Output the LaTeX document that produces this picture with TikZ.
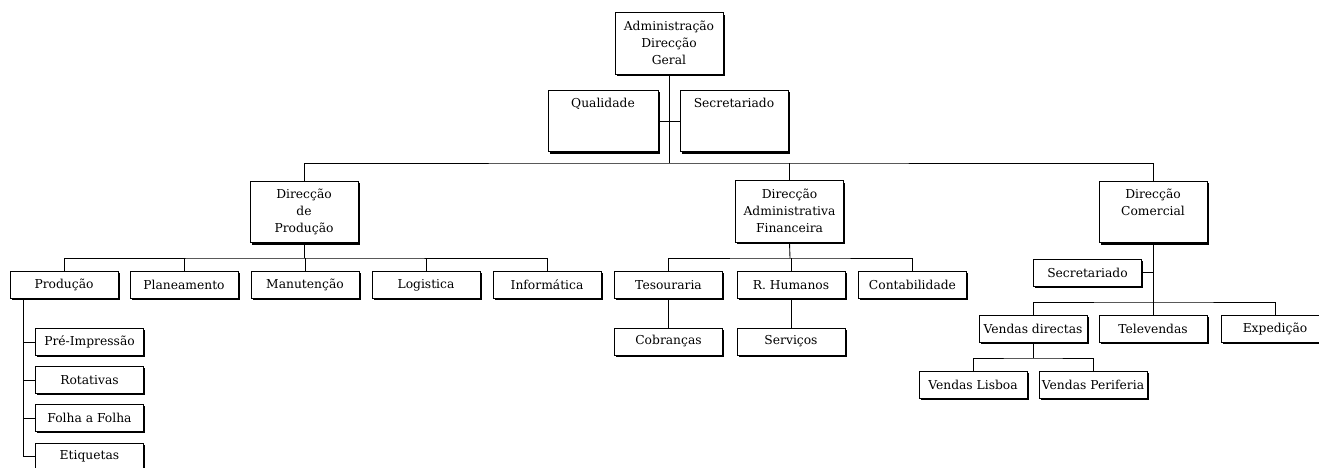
\documentclass[tikz,border=0pt]{standalone}
\usepackage{fontspec}
\setmainfont{DejaVu Serif}
\usetikzlibrary{shadows}
\newcommand{\boxlines}[1]{\begin{tabular}[t]{@{}c@{}}#1\end{tabular}}

\begin{document}
\begin{tikzpicture}[x=0.02cm,y=-0.02cm,
		font=\fontsize{7}{9.7}\selectfont,
		unit/.style={draw,fill=white,line width=0.5pt,inner sep=0pt,align=center,
			minimum width=2.16cm,minimum height=0.54cm,
			general shadow={fill=black,shadow xshift=1.1pt,shadow yshift=-1.1pt}},
		head/.style={unit,inner ysep=4pt,text height=6pt,text depth=21pt},
		link/.style={line width=0.5pt}]
		\useasboundingbox (0,0) rectangle (1319,467);

		% top
		\node [head] (adm) at (669,43.5) {\boxlines{Administração\\Direcção\\Geral}};
		\node [head,minimum width=2.2cm] (qual) at (603,121) {Qualidade};
		\node [head] (secr) at (734,121) {Secretariado};
		\coordinate (topbus) at (669,163);
		\draw [link] (qual.east) -- (secr.west);
		\draw [link] (adm.south) -- (topbus);

		\node [head] (dprod) at (304,212) {\boxlines{Direcção\\de\\Produção}};
		\node [head] (dadm) at (789.5,211.5) {\boxlines{Direcção\\Administrativa\\Financeira}};
		\node [head] (dcom) at (1153,212) {\boxlines{Direcção\\Comercial}};
		\draw [link] (dprod.north) |- (topbus) -| (dcom.north);
		\draw [link] (dadm.north) -- (dadm.north |- topbus);

		% producao
		\node [unit] (prod) at (64,285) {Produção};
		\node [unit] (plan) at (184,285) {Planeamento};
		\node [unit] (manu) at (305,285) {Manutenção};
		\node [unit] (logi) at (426,285) {Logistica};
		\node [unit] (info) at (547,285) {Informática};
		\coordinate (pbus) at (304,258);
		\draw [link] (dprod.south) -- (pbus);
		\draw [link] (prod.north) |- (pbus) -| (info.north);
		\foreach \n in {plan,manu,logi}
			\draw [link] (\n.north) -- (\n.north |- pbus);

		\node [unit] (preimp) at (89.5,342) {Pré-Impressão};
		\node [unit] (rota) at (89.5,380) {Rotativas};
		\node [unit] (folha) at (89.5,418) {Folha a Folha};
		\node [unit] (etiq) at (89.5,456.5) {Etiquetas};
		\coordinate (ptrunk) at ([xshift=0.28cm]prod.south west);
		\draw [link] (ptrunk) |- (etiq.west);
		\foreach \n in {preimp,rota,folha}
			\draw [link] (\n.west) -- (\n.west -| ptrunk);

		% administrativa
		\node [unit] (tes) at (668.5,285) {Tesouraria};
		\node [unit] (rhum) at (791,285) {R. Humanos};
		\node [unit] (cont) at (912.5,285) {Contabilidade};
		\node [unit] (cobr) at (668.5,341.5) {Cobranças};
		\node [unit] (serv) at (791,341.5) {Serviços};
		\coordinate (abus) at (790,258);
		\draw [link] (dadm.south) -- (abus);
		\draw [link] (tes.north) |- (abus) -| (cont.north);
		\draw [link] (rhum.north) -- (rhum.north |- abus);
		\draw [link] (tes.south) -- (cobr.north);
		\draw [link] (rhum.south) -- (serv.north);

		% comercial
		\node [unit] (secc) at (1087.5,272.5) {Secretariado};
		\node [unit] (vdir) at (1033,329) {Vendas directas};
		\node [unit] (telev) at (1153,329) {Televendas};
		\node [unit] (exped) at (1275,329) {Expedição};
		\node [unit] (vlis) at (973,384.5) {Vendas Lisboa};
		\node [unit] (vper) at (1093,384.5) {Vendas Periferia};
		\coordinate (cbus) at (1153,302);
		\draw [link] (dcom.south) -- (cbus);
		\draw [link] (secc.east) -- (secc.east -| cbus);
		\draw [link] (vdir.north) |- (cbus) -| (exped.north);
		\draw [link] (telev.north) -- (cbus);
		\coordinate (vbus) at (1033,358);
		\draw [link] (vdir.south) -- (vbus);
		\draw [link] (vlis.north) |- (vbus) -| (vper.north);
	\end{tikzpicture}
\end{document}
